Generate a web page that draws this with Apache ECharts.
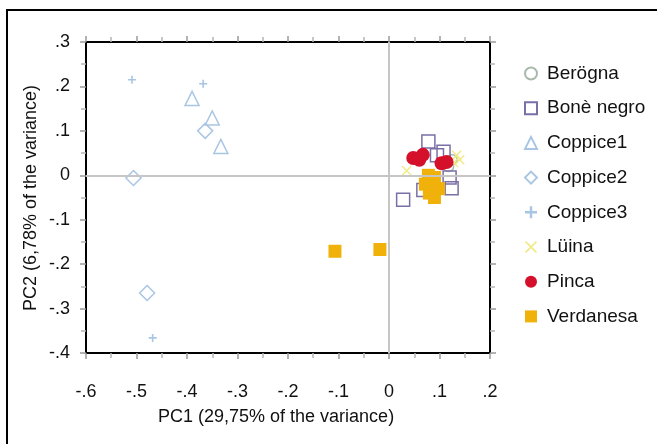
<!DOCTYPE html>
<html><head><meta charset="utf-8">
<script src="https://cdn.jsdelivr.net/npm/echarts@6/dist/echarts.min.js"></script>
<style>html,body{margin:0;padding:0;background:#fff}#c{width:657px;height:444px}</style>
</head><body><div id="c"></div>
<script>
const seriesNames = ["Berögna","Bonè negro","Coppice1","Coppice2","Coppice3","Lüina","Pinca","Verdanesa"];
const beroegna = [[0.118,0.02],[0.125,0.035]];
const boneNegro = [[0.078,0.076],[0.108,0.053],[0.095,0.045],[0.028,-0.055],[0.068,-0.033],[0.124,-0.029],[0.12,-0.005]];
const coppice1 = [[-0.39,0.173],[-0.35,0.129],[-0.333,0.065]];
const coppice2 = [[-0.364,0.1],[-0.506,-0.006],[-0.479,-0.265]];
const coppice3 = [[-0.509,0.215],[-0.368,0.206],[-0.468,-0.366]];
const luina = [[0.134,0.045],[0.128,0.028],[0.035,0.01],[0.14,0.035]];
const pinca = [[0.048,0.039],[0.067,0.046],[0.06,0.035],[0.104,0.027],[0.114,0.03]];
const verdanesa = [[-0.107,-0.171],[-0.018,-0.167],[0.078,0.0],[0.09,-0.005],[0.072,-0.02],[0.085,-0.025],[0.08,-0.04],[0.09,-0.05],[0.098,-0.03]];
const xTicks = {min:-0.6, max:0.2, step:0.1};
const yTicks = {min:-0.4, max:0.3, step:0.1};

const FONT = "'Liberation Sans', Arial, sans-serif";
function fmt(v){
  const r = Math.round(v*10)/10;
  if (r === 0) return '0';
  return (r<0?'-':'') + String(Math.abs(r)).replace(/^0/,'');
}
const tickStyle = {show:true, inside:false, length:6, lineStyle:{color:'#9a9a9a', width:1.5}};
const minorStyle = {show:true, splitNumber:2, length:5, lineStyle:{color:'#b5b5b5', width:1.5}};
const lineStyle = {show:true, onZero:false, lineStyle:{color:'#000', width:2}};
function xAx(pos, labels){
  return {type:'value', position:pos, min:xTicks.min, max:xTicks.max, interval:xTicks.step,
    axisLine:lineStyle, axisTick:tickStyle, minorTick:minorStyle, splitLine:{show:false}, minorSplitLine:{show:false},
    axisLabel:{show:labels, formatter:fmt, fontSize:18, color:'#111', fontFamily:FONT, margin:30}};
}
function yAx(pos, labels){
  return {type:'value', position:pos, min:yTicks.min, max:yTicks.max, interval:yTicks.step,
    axisLine:lineStyle, axisTick:tickStyle, minorTick:minorStyle, splitLine:{show:false}, minorSplitLine:{show:false},
    axisLabel:{show:labels, formatter:fmt, fontSize:18, color:'#111', fontFamily:FONT, margin:16, padding:[6,0,0,0]}};
}
const plusPath = 'path://M4,0L6,0L6,4L10,4L10,6L6,6L6,10L4,10L4,6L0,6L0,4L4,4Z';
const crossPath = 'path://M1,0L5,4L9,0L10,1L6,5L10,9L9,10L5,6L1,10L0,9L4,5L0,1Z';
function hollow(c, w){ return {color:'rgba(255,255,255,0)', borderColor:c, borderWidth:w||1.5, opacity:1}; }

const chart = echarts.init(document.getElementById('c'), null, {renderer:'canvas'});
chart.setOption({
  animation:false,
  backgroundColor:'#fff',
  grid:{left:86, right:167, top:42, bottom:91, containLabel:false},
  xAxis:[xAx('bottom', true), xAx('top', false)],
  yAxis:[yAx('left', true), yAx('right', false)],
  legend:{orient:'vertical', left:524, top:64, padding:0, itemWidth:12, itemHeight:12, itemGap:15.7,
    data:seriesNames, textStyle:{fontSize:19, color:'#111', fontFamily:FONT, padding:[0,0,0,5]}},
  graphic:[
    {type:'rect', shape:{x:7, y:10, width:700, height:500}, style:{fill:'none', stroke:'#000', lineWidth:2}, silent:true},
    {type:'text', left:158, top:408, style:{text:'PC1 (29,75% of the variance)', font:"18px "+FONT, fill:'#111'}},
    {type:'text', rotation:Math.PI/2, x:31, y:198, style:{text:'PC2 (6,78% of the variance)', font:"18px "+FONT, fill:'#111', align:'center', verticalAlign:'middle'}}
  ],
  series:[
    {name:'zero', type:'scatter', data:[], z:1, silent:true,
      markLine:{silent:true, symbol:'none', label:{show:false}, lineStyle:{color:'#c6c6c6', width:2, type:'solid'},
        data:[{xAxis:0},{yAxis:0}]}},
    {name:seriesNames[0], type:'scatter', data:beroegna, symbol:'circle', symbolSize:10, itemStyle:hollow('#a9b9ac',1.5), z:3},
    {name:seriesNames[1], type:'scatter', data:boneNegro, symbol:'rect', symbolSize:13, itemStyle:hollow('#7a6fa6',1.5), z:3},
    {name:seriesNames[2], type:'scatter', data:coppice1, symbol:'triangle', symbolSize:14, itemStyle:hollow('#a8c6e4',1.5), z:3},
    {name:seriesNames[3], type:'scatter', data:coppice2, symbol:'diamond', symbolSize:15, itemStyle:hollow('#a8c6e4',1.5), z:3},
    {name:seriesNames[4], type:'scatter', data:coppice3, symbol:plusPath, symbolSize:8, itemStyle:{color:'#a8c6e4', opacity:1}, z:3},
    {name:seriesNames[5], type:'scatter', data:luina, symbol:crossPath, symbolSize:10, itemStyle:{color:'#f1ea86', opacity:1}, z:3},
    {name:seriesNames[6], type:'scatter', data:pinca, symbol:'circle', symbolSize:14, itemStyle:{color:'#d5102b', opacity:1}, z:3},
    {name:seriesNames[7], type:'scatter', data:verdanesa, symbol:'rect', symbolSize:13, itemStyle:{color:'#f0b20a', opacity:1}, z:3}
  ]
});
</script></body></html>
